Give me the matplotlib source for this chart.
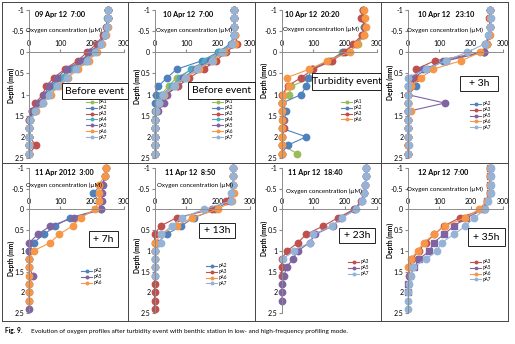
import numpy as np
import matplotlib
matplotlib.use('Agg')
import matplotlib.pyplot as plt
from matplotlib.patches import Rectangle
from matplotlib.lines import Line2D

plt.rcParams['font.family'] = ['Lato', 'DejaVu Sans']

# depth of each profile step (mm)
depth = [-1.0, -0.8, -0.6, -0.4, -0.2, 0.0, 0.2, 0.4, 0.6, 0.8,
         1.0, 1.2, 1.4, 1.6, 1.8, 2.0, 2.2, 2.4]
x_ticks = [0, 100, 200, 300]
y_ticks = [-1, -0.5, 0, 0.5, 1, 1.5, 2, 2.5]
y_labels = ['-1', '-0.5', '0', '0.5', '1', '1.5', '2', '2.5']

titles = ['09 Apr 12  7:00', '10 Apr 12  7:00', '10 Apr 12  20:20', '10 Apr 12   23:10',
          '11 Apr 2012  3:00', '11 Apr 12  8:50', '11 Apr 12  18:40', '12 Apr 12  7:00']
notes = ['Before event', 'Before event', 'Turbidity event', '+ 3h',
         '+ 7h', '+ 13h', '+ 23h', '+ 35h']
caption_bold = 'Fig. 9.'
caption = 'Evolution of oxygen profiles after turbidity event with benthic station in low- and high-frequency profiling mode.'

n = None
p1 = {
    'pA1': [250, 250, 248, 240, 225, 200, 175, 135, 105, 75, 60, 40, 20, 5, 3, 2, 2, 2],
    'pA2': [250, 250, 247, 238, 222, 195, 170, 130, 100, 70, 55, 35, 15, 4, 2, 2, 2, 2],
    'pA3': [252, 250, 246, 236, 215, 185, 155, 115, 80, 55, 45, 22, 10, 3, 2, 2, 24, 2],
    'pA4': [250, 249, 247, 240, 228, 205, 180, 140, 110, 80, 60, 40, 20, 5, 2, 2, 2, 2],
    'pA5': [250, 250, 248, 240, 225, 195, 165, 120, 90, 65, 50, 30, 12, 3, 2, 2, 2, 2],
    'pA6': [252, 251, 250, 245, 232, 215, 190, 155, 125, 95, 70, 45, 25, 6, 3, 2, 2, 2],
    'pA7': [250, 250, 249, 243, 230, 210, 185, 150, 120, 90, 65, 45, 22, 6, 3, 2, 2, 2],
}
p2 = {
    'pA1': [252, 252, 252, 250, 245, 210, 170, 120, 70, 45, 20, 10, 5, 2, 2, 2, 2, 2],
    'pA2': [252, 252, 252, 250, 240, 200, 150, 70, 40, 12, 4, 3, 2, 2, 2, 2, 2, 2],
    'pA3': [252, 252, 252, 255, 262, 225, 195, 155, 110, 75, 35, 20, 8, 2, 2, 2, 2, 2],
    'pA4': [252, 252, 252, 250, 245, 205, 160, 115, 80, 55, 25, 12, 4, 2, 2, 2, 2, 2],
    'pA5': [252, 252, 252, 250, 245, 215, 175, 130, 90, 70, 40, 30, 10, 3, 2, 2, 2, 2],
    'pA6': [252, 252, 252, 255, 255, 220, 185, 140, 100, 65, 30, 15, 5, 2, 2, 2, 2, 2],
    'pA7': [252, 252, 252, 250, 245, 212, 180, 135, 95, 60, 28, 15, 5, 3, 2, 2, 2, 2],
}
p3 = {
    'pA1': [258, 260, 262, 260, 240, 190, 155, 95, 100, 30, 25, 2, 8, 5, 3, 2, 3, 50],
    'pA2': [258, 258, 262, 255, 235, 195, 150, 95, 85, 78, 62, 2, 14, 9, 2, 78, 19, 0],
    'pA3': [258, 250, 265, 255, 225, 200, 160, 100, 62, 19, 3, 2, 3, 5, 9, 2, 2, 2],
    'pA6': [262, 264, 266, 262, 238, 215, 145, 88, 17, 24, 6, 2, 3, 3, 3, 3, 3, 3],
}
p4 = {
    'pA2': [262, 262, 262, 258, 250, 240, 113, 60, 20, 28, 2, 2, 2, 2, 2, 2, 2, 2],
    'pA3': [262, 258, 262, 258, 245, 240, 86, 27, 27, 12, 2, 2, 2, 2, 2, 2, 2, 2],
    'pA5': [262, 262, 262, 258, 250, 242, 123, 50, 11, 0, 0, 118, 0, 0, 0, 0, 0, 0],
    'pA6': [262, 262, 262, 262, 252, 230, 170, 80, 43, 11, 0, 0, 11, 2, 2, 2, 2, 2],
    'pA7': [262, 265, 262, 255, 245, 188, 120, 59, 0, 2, 0, 2, 2, 2, 2, 2, 5, 2],
}
p5 = {
    'pA2': [245, 242, 232, 204, 222, 228, 131, 84, 50, 16, 3, 2, n, n, n, n, n, n],
    'pA5': [245, 242, 236, 232, 232, 230, 144, 69, 29, 3, 2, 2, 2, 14, 2, 2, 2, 2],
    'pA6': [245, 240, 222, 224, 222, 209, 165, 139, 97, 69, 16, 2, 2, 2, 2, 2, 2, n],
}
p6 = {
    'pA2': [249, 249, 249, 245, 238, 190, 124, 84, 38, 11, 2, n, n, n, n, n, n, n],
    'pA3': [249, 249, 249, 245, 226, 181, 70, 19, 0, 0, 0, 0, 0, 0, 0, 0, 0, 0],
    'pA6': [249, 249, 249, 250, 245, 199, 118, 70, 20, 2, 2, 2, 2, n, n, n, n, n],
    'pA7': [249, 249, 249, 242, 240, 156, 86, 54, 22, 22, 2, 2, 2, 2, n, n, n, n],
}
p7 = {
    'pA3': [268, 266, 265, 262, 252, 228, 179, 132, 78, 52, 18, 0, 0, 0, n, n, n, n],
    'pA5': [268, 266, 264, 262, 255, 232, 188, 162, 107, 89, 52, 35, 16, 8, 2, 2, 2, n],
    'pA7': [268, 266, 264, 262, 255, 236, 192, 161, 100, 89, 38, 4, n, n, n, n, n, n],
}
p8 = {
    'pA3': [261, 261, 261, 261, 250, 240, 165, 115, 85, 58, 35, 14, 5, 5, n, n, n, n],
    'pA5': [261, 261, 261, 261, 252, 242, 186, 147, 115, 83, 69, 37, 21, 8, 2, 2, n, n],
    'pA6': [261, 261, 261, 261, 250, 225, 183, 117, 85, 51, 32, 11, 0, n, n, n, n, n],
    'pA7': [263, 263, 263, 263, 255, 245, 211, 183, 147, 108, 93, 59, 16, 12, 5, 3, 2, 2],
}
panels = [p1, p2, p3, p4, p5, p6, p7, p8]

colors = {'pA1': '#9BBB59', 'pA2': '#4F81BD', 'pA3': '#C0504D', 'pA4': '#4BACC6',
          'pA5': '#8064A2', 'pA6': '#F79646', 'pA7': '#95B3D7'}

W, H = 515, 344


def fx(x):
    return x / W


def fy(y):
    return 1 - y / H


fig = plt.figure(figsize=(W / 100, H / 100), dpi=100)

# panel grid
col_left = [2, 128, 255, 381]
right = 508
bottom = 321
grid_kw = dict(transform=fig.transFigure, color='#444444', lw=0.7)
for y in [2, 163, 321]:
    fig.add_artist(Line2D([fx(2), fx(right)], [fy(y), fy(y)], **grid_kw))
for x in col_left + [right]:
    fig.add_artist(Line2D([fx(x), fx(x)], [fy(2), fy(bottom)], **grid_kw))

# layout of each panel (pixel positions)
ax_top = [10, 168]
ax_bot = [158, 313]
title_x = [35, 163, 285, 418, 35, 165, 288, 418]
title_y = [15, 15, 15, 15, 173, 173, 173, 173]
oxy_x = [26, 156, 283, 407, 26, 157, 286, 407]
oxy_y = [30, 30, 29, 30, 185, 185, 191, 189]
depth_y = [85, 86, 80, 82, 258, 255, 238, 240]
leg_pos = [(84, 97), (210, 97), (339, 97), (468, 99), (79, 266), (204, 261), (346, 257), (468, 257)]
box_pos = [(62, 83, 128, 99), (188, 82, 255, 99), (312, 73, 381, 90), (460, 76, 498, 91),
           (89, 231, 118, 247), (199, 223, 235, 238), (339, 228, 375, 243), (468, 228, 505, 246)]

for i, data in enumerate(panels):
    row, col = divmod(i, 4)
    left = col_left[col] + 26.5
    top, bot = ax_top[row], ax_bot[row]
    ax = fig.add_axes([fx(left), fy(bot), 95 / W, (bot - top) / H])
    ax.patch.set_visible(False)
    for name, vals in data.items():
        c = colors[name]
        mk = 's' if (i == 7 and name == 'pA5') else 'o'
        ax.plot(np.array(vals, dtype=float), depth, '-', marker=mk, color=c, lw=0.8,
                ms=4.6, mec=c, clip_on=False, label=name)
    ax.set_xlim(0, 300)
    ax.set_ylim(2.5, -1)
    ax.spines['right'].set_visible(False)
    ax.spines['bottom'].set_visible(False)
    ax.spines['top'].set_position(('data', 0))
    for s in ['top', 'left']:
        ax.spines[s].set_color('#8c8c8c')
        ax.spines[s].set_linewidth(0.7)
    ax.xaxis.set_ticks_position('top')
    ax.set_xticks(x_ticks)
    ax.set_yticks(y_ticks)
    ax.set_yticklabels(y_labels)
    ax.tick_params(axis='x', labelsize=5, length=2, pad=1.5, color='#8c8c8c')
    ax.tick_params(axis='y', labelsize=5, length=2, pad=1, color='#8c8c8c')
    ax.legend(loc='upper left', bbox_to_anchor=(fx(leg_pos[i][0]), fy(leg_pos[i][1])),
              bbox_transform=fig.transFigure, frameon=False, fontsize=3.3,
              handlelength=2.4, markerscale=0.4, labelspacing=0.2, borderpad=0,
              handletextpad=0.3)

    fig.text(fx(title_x[i]), fy(title_y[i]), titles[i], fontsize=5.2, weight='bold', va='center')
    fig.text(fx(oxy_x[i]), fy(oxy_y[i]), 'Oxygen concentration (\u00b5M)', fontsize=4.5, va='center')
    fig.text(fx(col_left[col] + 9.5), fy(depth_y[i]), 'Depth (mm)', fontsize=4.8,
             weight='bold', rotation=90, ha='center', va='center')

    x0, y0, x1, y1 = box_pos[i]
    fig.add_artist(Rectangle((fx(x0), fy(y1)), (x1 - x0) / W, (y1 - y0) / H,
                             transform=fig.transFigure, facecolor='white',
                             edgecolor='#222222', lw=0.7, zorder=5))
    fig.text(fx((x0 + x1) / 2), fy((y0 + y1) / 2), notes[i], fontsize=7.5,
             ha='center', va='center', zorder=6)

fig.text(fx(5), fy(331), caption_bold, fontsize=4.8, weight='bold', va='center')
fig.text(fx(31), fy(331), caption, fontsize=4.6, va='center')

fig.savefig('out.png', dpi=100)
